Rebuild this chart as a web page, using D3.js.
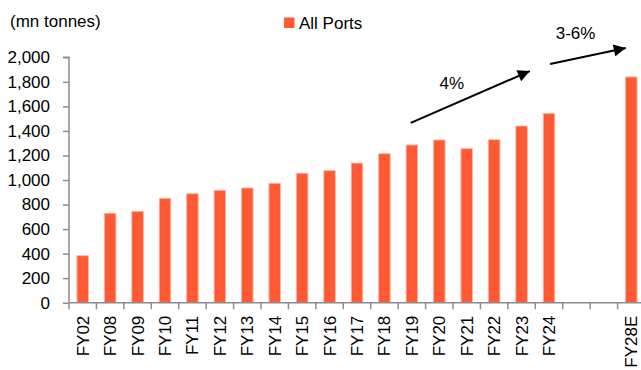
<!DOCTYPE html>
<html>
<head>
<meta charset="utf-8">
<script src="https://cdn.jsdelivr.net/npm/d3@7"></script>
<style>
  html, body { margin: 0; padding: 0; background: #fff; }
  svg { display: block; font-family: "Liberation Sans", Arial, sans-serif; }
</style>
</head>
<body>
<svg id="chart" width="641" height="370"></svg>
<script>
// Cargo traffic handled at all ports (mn tonnes)
const categories = ["FY02", "FY08", "FY09", "FY10", "FY11", "FY12", "FY13", "FY14", "FY15",
  "FY16", "FY17", "FY18", "FY19", "FY20", "FY21", "FY22", "FY23", "FY24", "gap1", "gap2", "FY28E"];
const values = [383, 729, 745, 851, 888, 916, 935, 973, 1055,
  1076, 1138, 1214, 1285, 1326, 1255, 1328, 1440, 1543, null, null, 1840];
const yTicks = [0, 200, 400, 600, 800, 1000, 1200, 1400, 1600, 1800, 2000];
const seriesName = "All Ports";
const unitLabel = "(mn tonnes)";

// Growth arrows: position given as category index (fractional) and value
const growthArrows = [
  { label: "4%",   from: [12.46, 1465], to: [16.8, 1888], text: [13.96, 1742] },
  { label: "3-6%", from: [17.54, 1945], to: [20.3, 2076], text: [18.47, 2149] }
];

const svg = d3.select("#chart");
const margin = { left: 69, top: 57.3, bottom: 302.7, right: 645 };
const barColor = "#FF5A33";
const axisColor = "#8c8c8c";
const fontSize = 17;

const x = d3.scaleBand().domain(categories).range([margin.left, margin.right]).paddingInner(0).paddingOuter(0);
const y = d3.scaleLinear().domain([0, 2000]).range([margin.bottom, margin.top]);
// index-based position used for annotations
const xi = d3.scaleLinear().domain([0, categories.length]).range([margin.left, margin.right]);

// Bars
const barW = x.bandwidth() * 0.42;
svg.append("g").selectAll("rect")
  .data(categories.map((c, i) => ({ c, v: values[i] })).filter(d => d.v != null))
  .join("rect")
  .attr("x", d => x(d.c) + (x.bandwidth() - barW) / 2)
  .attr("y", d => y(d.v))
  .attr("width", barW)
  .attr("height", d => y(0) - y(d.v))
  .attr("fill", barColor)
  .attr("stroke", "#FFB7A3")
  .attr("stroke-width", 0.8);

// Y axis
const yAxis = svg.append("g")
  .attr("transform", `translate(${margin.left},0)`)
  .call(d3.axisLeft(y).tickValues(yTicks).tickSize(6).tickPadding(13)
    .tickFormat(d3.format(",")));
yAxis.select(".domain").attr("stroke", axisColor).attr("stroke-width", 1.5)
  .attr("d", `M-6,${y(2000)}H0V${y(0)}`);
yAxis.selectAll(".tick line").attr("stroke", axisColor).attr("stroke-width", 1.5);
yAxis.selectAll(".tick text").attr("fill", "#000").style("font-size", fontSize + "px")
  .style("font-family", "'Liberation Sans', Arial, sans-serif");

// X axis: ticks on band boundaries, labels rotated
const xg = svg.append("g").attr("transform", `translate(0,${margin.bottom})`);
xg.append("line").attr("x1", margin.left).attr("x2", 641)
  .attr("stroke", axisColor).attr("stroke-width", 1.5);
xg.selectAll("line.tick").data(d3.range(categories.length + 1))
  .join("line").attr("class", "tick")
  .attr("x1", i => xi(i)).attr("x2", i => xi(i))
  .attr("y1", 0).attr("y2", 6.5)
  .attr("stroke", axisColor).attr("stroke-width", 1.5);
xg.selectAll("text").data(categories.filter(c => !c.startsWith("gap")))
  .join("text")
  .attr("transform", c => `translate(${x(c) + x.bandwidth() / 2 + 6},13) rotate(-90)`)
  .attr("text-anchor", "end")
  .style("font-size", fontSize + "px")
  .attr("fill", "#000")
  .text(c => c);

// Unit label
svg.append("text").attr("x", 10).attr("y", 27)
  .style("font-size", fontSize + "px").attr("fill", "#000").text(unitLabel);

// Legend
svg.append("rect").attr("x", 284).attr("y", 17.5).attr("width", 10.5).attr("height", 10.5).attr("fill", barColor);
svg.append("text").attr("x", 299).attr("y", 29)
  .style("font-size", fontSize + "px").attr("fill", "#000").text(seriesName);

// Growth arrows
const defs = svg.append("defs");
defs.append("marker").attr("id", "head")
  .attr("viewBox", "0 0 10 10").attr("refX", 10).attr("refY", 5)
  .attr("markerUnits", "userSpaceOnUse")
  .attr("markerWidth", 15).attr("markerHeight", 12).attr("orient", "auto")
  .append("path").attr("d", "M0,0L10,5L0,10Z").attr("fill", "#000");

const ag = svg.append("g");
growthArrows.forEach(a => {
  ag.append("line")
    .attr("x1", xi(a.from[0])).attr("y1", y(a.from[1]))
    .attr("x2", xi(a.to[0])).attr("y2", y(a.to[1]))
    .attr("stroke", "#000").attr("stroke-width", 2)
    .attr("marker-end", "url(#head)");
  ag.append("text")
    .attr("x", xi(a.text[0])).attr("y", y(a.text[1]))
    .attr("text-anchor", "middle")
    .style("font-size", fontSize + "px").attr("fill", "#000")
    .text(a.label);
});
</script>
</body>
</html>
